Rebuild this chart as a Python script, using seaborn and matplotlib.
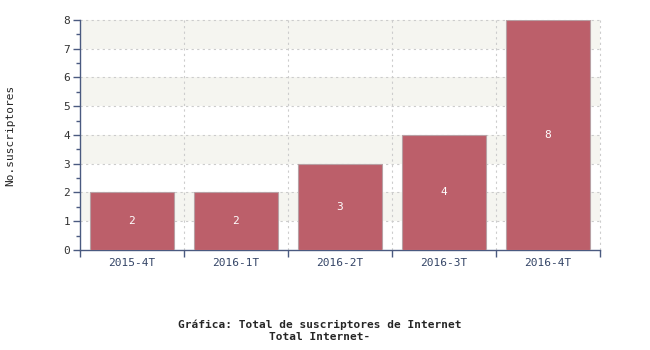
import matplotlib
matplotlib.use("Agg")
import matplotlib.pyplot as plt
import seaborn as sns
import pandas as pd
import numpy as np
from matplotlib.ticker import MultipleLocator, FixedLocator

categories = ["2015-4T", "2016-1T", "2016-2T", "2016-3T", "2016-4T"]
values = [2, 2, 3, 4, 8]
y_label = "No.suscriptores"
title_lines = ["Gráfica: Total de suscriptores de Internet", "Total Internet-"]

sns.set_style("white")
plt.rcParams["font.family"] = ["DejaVu Sans Mono"]

df = pd.DataFrame({"cat": categories, "val": values})

fig = plt.figure(figsize=(6.5, 3.5), dpi=100)
ax = fig.add_axes([0.123, 0.286, 0.8, 0.657])

# alternating bands
for lo in range(1, 8, 2):
    ax.axhspan(lo, lo + 1, color="#f5f5f0", zorder=0, lw=0)

sns.barplot(data=df, x="cat", y="val", color="#bc5f6a", saturation=1,
            width=0.8, edgecolor="#b8a0a4", linewidth=0.8, ax=ax, zorder=3)

ax.set_xlim(-0.5, len(categories) - 0.5)
ax.set_ylim(0, 8)

# gridlines
for y in range(1, 9):
    ax.axhline(y, color="#cccccc", lw=0.8, ls=(0, (2, 3)), zorder=1, clip_on=False)
for x in np.arange(0.5, len(categories) + 0.5, 1.0):
    ax.axvline(x, color="#cccccc", lw=0.8, ls=(0, (2, 3)), zorder=1, clip_on=False)

# value labels
for i, v in enumerate(values):
    ax.text(i, v / 2, str(v), ha="center", va="center", color="white",
            fontsize=8, zorder=4)

ax.set_xlabel("")
ax.set_ylabel(y_label, fontsize=8)
ax.yaxis.set_label_coords(-0.125, 0.5)

for s in ["top", "right"]:
    ax.spines[s].set_visible(False)
for s in ["left", "bottom"]:
    ax.spines[s].set_color("#4a5a80")
    ax.spines[s].set_linewidth(1)

ax.yaxis.set_major_locator(MultipleLocator(1))
ax.yaxis.set_minor_locator(MultipleLocator(0.5))
ax.tick_params(axis="y", which="major", left=True, length=5, width=1,
               color="#4a5a80", labelsize=8, labelcolor="#333333", pad=2)
ax.tick_params(axis="y", which="minor", left=True, length=3, width=1,
               color="#4a5a80")
ax.xaxis.set_minor_locator(FixedLocator(np.arange(-0.5, len(categories), 1.0)))
ax.tick_params(axis="x", which="major", bottom=False, labelsize=8,
               labelcolor="#334466", pad=2)
ax.tick_params(axis="x", which="minor", bottom=True, length=5, width=1,
               color="#4a5a80")

fig.text(0.492, 0.055, "\n".join(title_lines), ha="center", va="center",
         fontsize=8, fontweight="bold", linespacing=1.3)

fig.savefig("out.png", dpi=100)
